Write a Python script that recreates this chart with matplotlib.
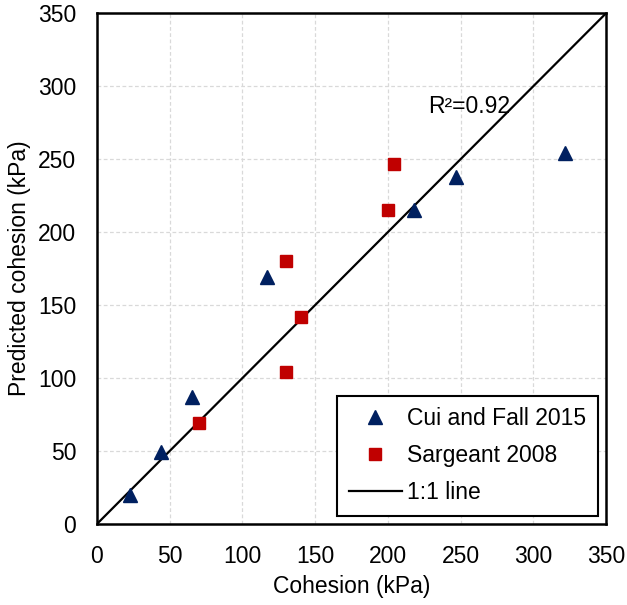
import numpy as np
import matplotlib
matplotlib.use("Agg")
from matplotlib import pyplot as plt

plt.rcParams['font.family'] = ['Liberation Sans', 'DejaVu Sans']

# measured vs predicted cohesion (kPa)
cui_x = [23, 44, 65, 117, 218, 247, 322]
cui_y = [20, 49, 87, 169, 215, 238, 254]
sargeant_x = [70, 130, 140, 130, 200, 204]
sargeant_y = [69, 104, 142, 180, 215, 247]
one_to_one = [0, 350]
ticks = [0, 50, 100, 150, 200, 250, 300, 350]
r2_label = 'R\u00b2=0.92'

fs = 16.5

fig = plt.figure(figsize=(6.27, 6.05), dpi=100)
ax = fig.add_axes([0.1547, 0.134, 0.8118, 0.844])

ax.plot(cui_x, cui_y, linestyle='none', marker='^', markersize=10,
        color='#002060', label='Cui and Fall 2015', zorder=3)
ax.plot(sargeant_x, sargeant_y, linestyle='none', marker='s', markersize=8.5,
        color='#C00000', label='Sargeant 2008', zorder=3)
ax.plot(one_to_one, one_to_one, color='black', linewidth=1.6,
        label='1:1 line', zorder=2)

ax.text(256, 286, r2_label, fontsize=fs, ha='center', va='center')

ax.set_xlim(0, 350)
ax.set_ylim(0, 350)
ax.set_xticks(ticks)
ax.set_yticks(ticks)
ax.tick_params(length=0, labelsize=fs, pad=15)
ax.grid(True, color='#d9d9d9', linestyle=(0, (3, 2)), linewidth=0.9, zorder=0)
ax.set_axisbelow(True)
for sp in ax.spines.values():
    sp.set_linewidth(1.8)
    sp.set_color('black')

ax.set_xlabel('Cohesion (kPa)', fontsize=fs, labelpad=5)
ax.set_ylabel('Predicted cohesion (kPa)', fontsize=fs, labelpad=5)

leg = ax.legend(loc='lower right', fontsize=fs, frameon=True, fancybox=False,
                edgecolor='black', framealpha=1, borderpad=0.5,
                labelspacing=0.62, handlelength=2.3, handletextpad=0.25,
                borderaxespad=0.35)
leg.get_frame().set_linewidth(1.5)

fig.savefig('out.png', dpi=100)
